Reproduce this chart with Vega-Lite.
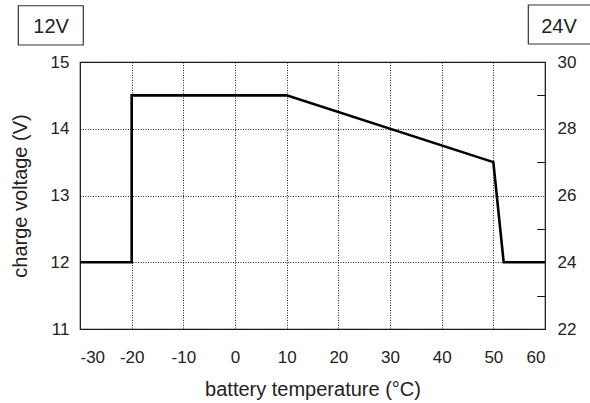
{
  "$schema": "https://vega.github.io/schema/vega-lite/v6.json",
  "width": 465,
  "height": 267,
  "autosize": {"type": "none"},
  "padding": {"left": 80, "top": 62, "right": 45, "bottom": 74},
  "background": "white",
  "config": {
    "font": "Liberation Sans",
    "view": {"stroke": "#111", "strokeWidth": 1.2},
    "axis": {
      "labelFont": "Liberation Sans",
      "titleFont": "Liberation Sans",
      "labelFontSize": 17,
      "titleFontSize": 20,
      "labelColor": "#222",
      "titleColor": "#222",
      "titleFontWeight": "normal",
      "domain": false
    }
  },
  "datasets": {
    "curve": [
      {"temp": -30, "volt": 12},
      {"temp": -20, "volt": 12},
      {"temp": -20, "volt": 14.5},
      {"temp": 10, "volt": 14.5},
      {"temp": 50, "volt": 13.5},
      {"temp": 52, "volt": 12},
      {"temp": 60, "volt": 12}
    ],
    "boxes": [
      {"label": "12V", "x1": -41.94, "x2": -29.36, "y1": 15.843, "y2": 15.255, "tx": -35.6, "ty": 15.52},
      {"label": "24V", "x1": 56.77, "x2": 69.0, "y1": 15.854, "y2": 15.27, "tx": 62.7, "ty": 15.53}
    ],
    "dummy": [{"v": 12}]
  },
  "layer": [
    {
      "data": {"name": "curve"},
      "mark": {"type": "line", "color": "black", "strokeWidth": 2.6, "clip": true},
      "encoding": {
        "x": {
          "field": "temp", "type": "quantitative",
          "scale": {"domain": [-30, 60], "nice": false, "zero": false},
          "axis": {
            "values": [-30, -20, -10, 0, 10, 20, 30, 40, 50, 60],
            "labelExpr": "toString(datum.value)",
            "ticks": false,
            "grid": true, "gridColor": "#222", "gridDash": [1, 1.5], "gridWidth": 1, "gridOpacity": 1,
            "labelPadding": 20,
            "title": "battery temperature (°C)",
            "titlePadding": 14
          }
        },
        "y": {
          "field": "volt", "type": "quantitative",
          "scale": {"domain": [11, 15], "nice": false, "zero": false},
          "axis": {
            "values": [11, 12, 13, 14, 15],
            "ticks": false,
            "grid": true, "gridColor": "#222", "gridDash": [1, 1.5], "gridWidth": 1, "gridOpacity": 1,
            "labelPadding": 11,
            "title": "charge voltage (V)",
            "titlePadding": 20
          }
        }
      }
    },
    {
      "data": {"name": "dummy"},
      "mark": {"type": "point", "opacity": 0},
      "encoding": {
        "y": {
          "field": "v", "type": "quantitative",
          "scale": {"domain": [11, 15], "nice": false, "zero": false},
          "axis": {
            "values": [11.5, 12.5, 13.5, 14.5],
            "labels": false, "grid": false, "title": null,
            "ticks": true, "tickSize": -8, "tickColor": "#111", "tickWidth": 1
          }
        }
      }
    },
    {
      "data": {"name": "dummy"},
      "mark": {"type": "point", "opacity": 0},
      "encoding": {
        "y": {
          "field": "v", "type": "quantitative",
          "scale": {"domain": [22, 30], "nice": false, "zero": false},
          "axis": {
            "orient": "right",
            "values": [22, 24, 26, 28, 30],
            "ticks": false, "grid": false, "title": null,
            "labelPadding": 12
          }
        }
      }
    },
    {
      "data": {"name": "dummy"},
      "mark": {"type": "point", "opacity": 0},
      "encoding": {
        "y": {
          "field": "v", "type": "quantitative",
          "scale": {"domain": [22, 30], "nice": false, "zero": false},
          "axis": {
            "orient": "right",
            "values": [23, 25, 27, 29],
            "labels": false, "grid": false, "title": null,
            "ticks": true, "tickSize": -8, "tickColor": "#111", "tickWidth": 1
          }
        }
      }
    },
    {
      "data": {"name": "boxes"},
      "mark": {"type": "rect", "fill": "white", "stroke": "#333", "strokeWidth": 1.2},
      "encoding": {
        "x": {"field": "x1", "type": "quantitative"},
        "x2": {"field": "x2"},
        "y": {"field": "y1", "type": "quantitative", "scale": {"domain": [11, 15], "nice": false, "zero": false}, "axis": null},
        "y2": {"field": "y2"}
      }
    },
    {
      "data": {"name": "boxes"},
      "mark": {"type": "text", "font": "Liberation Sans", "fontSize": 20, "color": "#222", "align": "center", "baseline": "middle"},
      "encoding": {
        "x": {"field": "tx", "type": "quantitative"},
        "y": {"field": "ty", "type": "quantitative", "scale": {"domain": [11, 15], "nice": false, "zero": false}, "axis": null},
        "text": {"field": "label"}
      }
    }
  ],
  "resolve": {"scale": {"y": "independent"}, "axis": {"y": "independent"}}
}
